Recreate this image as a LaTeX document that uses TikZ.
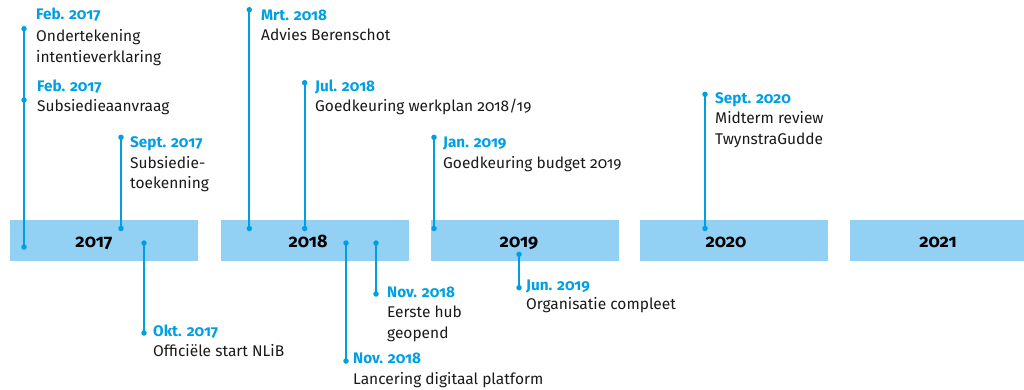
\documentclass[tikz,border=0pt]{standalone}
\usepackage{fontspec}
\setmainfont{Fira Sans}[Numbers=OldStyle]
\definecolor{nblue}{HTML}{009FE3}
\definecolor{lblue}{HTML}{92D1F3}
\definecolor{txt}{HTML}{1A1A1A}
\begin{document}
\begin{tikzpicture}[x=1pt,y=-1pt,
  yearbox/.style={fill=lblue, draw=none, minimum height=41pt, anchor=north west, inner sep=0pt},
  yeartext/.style={font=\fontsize{18}{20}\selectfont\bfseries, anchor=base, text=black, inner sep=0pt},
  dot/.style={circle, fill=nblue, inner sep=0pt, minimum size=5.5pt},
  stem/.style={draw=nblue, line width=2.2pt},
  datelbl/.style={font=\fontsize{15.3}{20.5}\selectfont\bfseries, text=nblue, anchor=base west, inner sep=0pt},
  desc/.style={font=\fontsize{15.5}{20.5}\selectfont, text=txt, anchor=base west, inner sep=0pt, align=left}]
\useasboundingbox (0,0) rectangle (1024,389);
% year boxes
\node[yearbox, minimum width=188pt] (b17) at (10,220) {};
\node[yearbox, minimum width=188pt] (b18) at (221,220) {};
\node[yearbox, minimum width=188pt] (b19) at (431,220) {};
\node[yearbox, minimum width=188pt] (b20) at (640,220) {};
\node[yearbox, minimum width=174pt] (b21) at (850,220) {};
\node[yeartext] (y17) at (94,247) {2017};
\node[yeartext] (y18) at (308,247) {2018};
\node[yeartext] (y19) at (519,247) {2019};
\node[yeartext] (y20) at (726,247) {2020};
\node[yeartext] (y21) at (938,247) {2021};
% dot coordinates
\coordinate (a1) at (24,28.7);  \coordinate (a2) at (24,100); \coordinate (a3) at (24,247);
\coordinate (s1) at (121,137.3); \coordinate (s2) at (121,228.5);
\coordinate (o1) at (144,243);   \coordinate (o2) at (144,333);
\coordinate (m1) at (249.3,9.7); \coordinate (m2) at (249.3,228.5);
\coordinate (j1) at (304.7,82.7); \coordinate (j2) at (304.7,228.5);
\coordinate (n1) at (346,243);   \coordinate (n2) at (346,361);
\coordinate (h1) at (376,243);   \coordinate (h2) at (376,294);
\coordinate (ja1) at (434,137.3); \coordinate (ja2) at (434,228.5);
\coordinate (ju1) at (519,254.3); \coordinate (ju2) at (519,287.7);
\coordinate (se1) at (705,94.3); \coordinate (se2) at (705,228.5);
% stems
\draw[stem] (a1) -- (a3);
\draw[stem] (s1) -- (s2);
\draw[stem] (o1) -- (o2);
\draw[stem] (m1) -- (m2);
\draw[stem] (j1) -- (j2);
\draw[stem] (n1) -- (n2);
\draw[stem] (h1) -- (h2);
\draw[stem] (ja1) -- (ja2);
\draw[stem] (ju1) -- (ju2);
\draw[stem] (se1) -- (se2);
\foreach \p in {a1,a2,a3,s1,s2,o1,o2,m1,m2,j1,j2,n1,n2,h1,h2,ja1,ja2,ju1,ju2,se1,se2}
  \node[dot] at (\p) {};
% labels (multi-line descriptions are placed by the baseline of their last line)
\node[datelbl] (t1) at (36,19.5) {Feb. 2017};
\node[desc] (e1) at (36,62) {Ondertekening\\intentieverklaring};
\node[datelbl] (t2) at (37,91) {Feb. 2017};
\node[desc] (e2) at (37,111.7) {Subsiedieaanvraag};
\node[datelbl] (t3) at (130,147.5) {Sept. 2017};
\node[desc] (e3) at (130,188.5) {Subsiedie-\\toekenning};
\node[datelbl] (t4) at (153,336) {Okt. 2017};
\node[desc] (e4) at (153,356.7) {Officiële start NLiB};
\node[datelbl] (t5) at (261,20) {Mrt. 2018};
\node[desc] (e5) at (261,40.7) {Advies Berenschot};
\node[datelbl] (t6) at (315,91) {Jul. 2018};
\node[desc] (e6) at (315,111.7) {Goedkeuring werkplan 2018/19};
\node[datelbl] (t7) at (387,297) {Nov. 2018};
\node[desc] (e7) at (387,338) {Eerste hub\\geopend};
\node[datelbl] (t8) at (353,363.7) {Nov. 2018};
\node[desc] (e8) at (353,384) {Lancering digitaal platform};
\node[datelbl] (t9) at (443,147.5) {Jan. 2019};
\node[desc] (e9) at (443,168) {Goedkeuring budget 2019};
\node[datelbl] (t10) at (526,290) {Jun. 2019};
\node[desc] (e10) at (526,309) {Organisatie compleet};
\node[datelbl] (t11) at (715,103) {Sept. 2020};
\node[desc] (e11) at (715,144) {Midterm review\\TwynstraGudde};
\end{tikzpicture}
\end{document}
